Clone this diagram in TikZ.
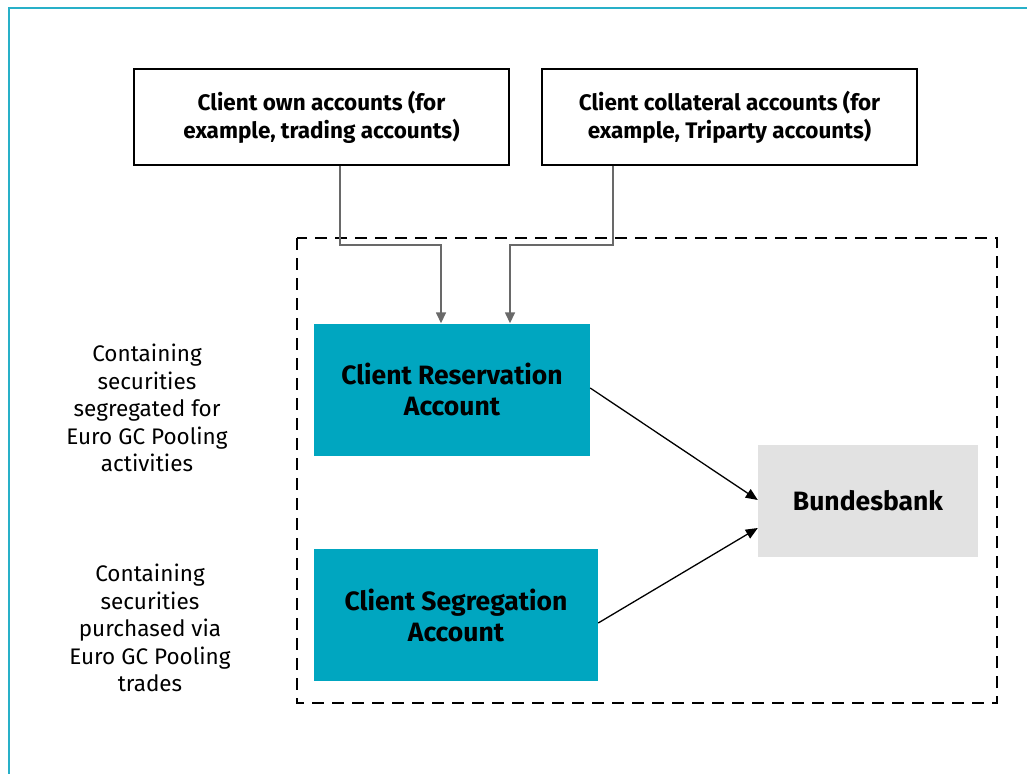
\documentclass[tikz,border=0pt]{standalone}
\usepackage{fontspec}
\setmainfont{Fira Sans}
\usepackage{tikz}
\usetikzlibrary{arrows.meta,positioning,calc}
\usepackage{xcolor}
\definecolor{frameteal}{RGB}{40,176,200}
\definecolor{acctteal}{RGB}{0,166,192}
\definecolor{bankgray}{RGB}{226,226,226}
\definecolor{feedgray}{RGB}{105,105,105}

\tikzset{
  topbox/.style={rectangle,draw=black,line width=1.3pt,fill=white,minimum width=375pt,minimum height=96pt,align=center,font=\bfseries\fontsize{22.5}{28}\selectfont},
  acctbox/.style={rectangle,fill=acctteal,minimum height=132pt,align=center,font=\bfseries\fontsize{26.5}{31}\selectfont},
  bankbox/.style={rectangle,fill=bankgray,minimum width=220pt,minimum height=112pt,font=\bfseries\fontsize{26.5}{31}\selectfont},
  note/.style={align=center,font=\fontsize{22.5}{27.5}\selectfont},
  feed/.style={draw=feedgray,line width=1.5pt,-{Triangle[length=11pt,width=10pt]}},
  flow/.style={draw=black,line width=1.3pt,-{Triangle[length=12pt,width=10pt]}}
}

\begin{document}
\begin{tikzpicture}[x=1pt,y=-1pt]
        \useasboundingbox (0,0) rectangle (1027,773);
        % Outer frame (only top and left edges show)
        \draw[frameteal,line width=1.6pt] (9,1100) -- (9,8) -- (1100,8);

        % Client zone
        \draw[dashed,dash pattern=on 12pt off 8pt,line width=1.5pt] (297,238) rectangle (997,703);

        % Source accounts
        \node[topbox] (own) at (321.5,117) {Client own accounts (for\\example, trading accounts)};
        \node[topbox] (coll) at (729.5,117) {Client collateral accounts (for\\example, Triparty accounts)};

        % Accounts held with Bundesbank
        \node[acctbox,minimum width=276pt] (resv) at (452,389.5) {Client Reservation\\Account};
        \node[acctbox,minimum width=284pt] (segr) at (456,615) {Client Segregation\\Account};
        \node[bankbox] (bank) at (868,501) {Bundesbank};

        % Side notes
        \node[note] (resvnote) at (147,408) {Containing\\securities\\segregated for\\Euro GC Pooling\\activities};
        \node[note] (segrnote) at (150,628) {Containing\\securities\\purchased via\\Euro GC Pooling\\trades};

        % Feeds into the reservation account
        \draw[feed] (own.south -| 340,0) |- (441,245) -- (resv.north -| 441,0);
        \draw[feed] (coll.south -| 613,0) |- (510,245) -- (resv.north -| 510,0);

        % Flows to Bundesbank
        \draw[flow] (resv.east |- 0,388) -- (bank.west |- 0,500);
        \draw[flow] (segr.east |- 0,623) -- (bank.west |- 0,528);
    \end{tikzpicture}
\end{document}
